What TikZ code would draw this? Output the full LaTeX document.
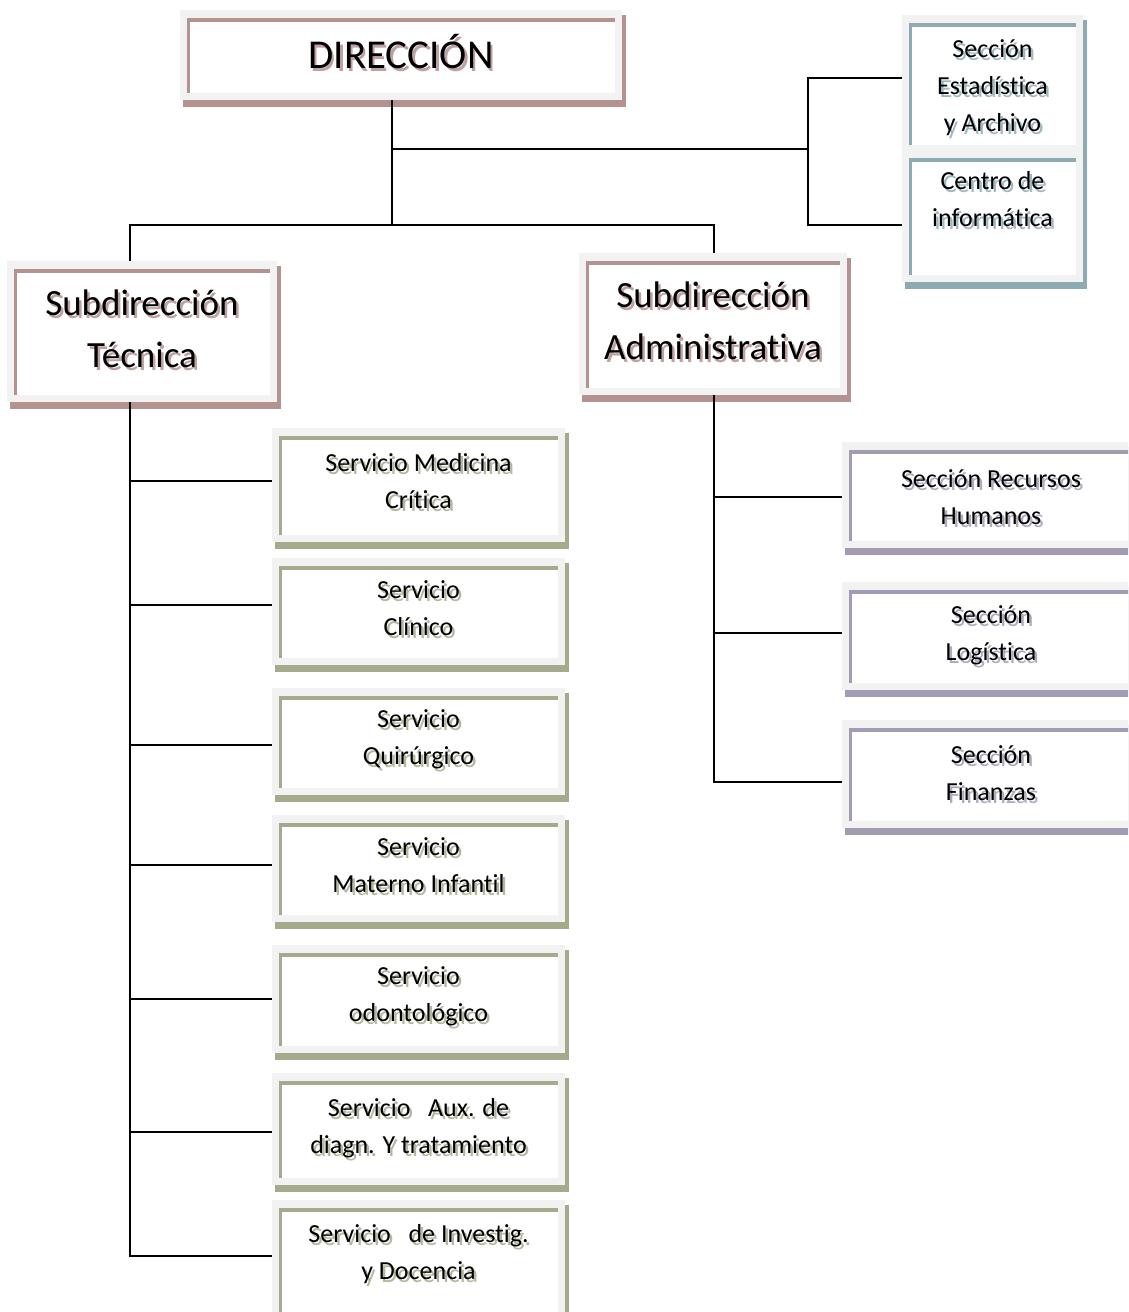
\documentclass[tikz,border=0pt]{standalone}
\usepackage{fontspec}
\setmainfont[Ligatures={NoCommon,NoContextual}]{Carlito}
\usetikzlibrary{fit}
\definecolor{framegray}{HTML}{F2F2F2}
\definecolor{pinkC}{HTML}{B39290}
\definecolor{blueC}{HTML}{8EABB4}
\definecolor{greenC}{HTML}{A3AB8C}
\definecolor{purpleC}{HTML}{A39BB3}
\tikzset{
  txt/.style={align=center, inner sep=0pt},
  conn/.style={draw=black, line width=1.6pt},
}
\newcommand\bigf{\fontsize{41}{50}\selectfont}
\newcommand\midf{\fontsize{37}{52}\selectfont}
\newcommand\smf{\fontsize{26}{37}\selectfont}
% #1 name #2 x0 #3 y0 #4 x1 #5 y1 #6 colour #7 font #8 text y #9 text
\newcommand\orgbox[9]{%
  \fill[#6] (#2+3,#3+5) rectangle (#4+4,#5+7);
  \fill[framegray] (#2,#3) rectangle (#4,#5);
  \fill[white] (#2+8,#3+8) rectangle (#4-7,#5-7);
  \fill[#6] (#2+7,#3+8) rectangle (#4-7,#3+12);
  \fill[#6] (#2+7,#3+8) rectangle (#2+10,#5-7);
  \node[fit={(#2,#3) (#4,#5)}, inner sep=0pt] (#1) {};
  \node[txt, font=#7, text=#6!85] at ({(#2+#4)/2+2.5},#8+3) {#9};
  \node[txt, font=#7] at ({(#2+#4)/2},#8) {#9};
}
\begin{document}
\begin{tikzpicture}[x=1pt, y=-1pt]
\useasboundingbox (0,0) rectangle (1128,1312);
\clip (0,0) rectangle (1128,1312);
\fill[white] (0,0) rectangle (1128,1312);

\orgbox{dir}{180}{10}{622}{100}{pinkC}{\bigf}{52}{DIRECCIÓN}
\orgbox{est}{902}{15}{1083}{152}{blueC}{\smf}{88}{Sección\\Estadística\\y Archivo}
\orgbox{cen}{902}{150}{1083}{282}{blueC}{\smf}{199.5}{Centro de\\informática}
\orgbox{tec}{7}{261}{277}{402}{pinkC}{\midf}{329}{Subdirección\\Técnica}
\orgbox{adm}{579}{253}{847}{395}{pinkC}{\midf}{320.5}{Subdirección\\Administrativa}

\orgbox{s1}{272}{428}{565}{542}{greenC}{\smf}{481.5}{Servicio Medicina\\Crítica}
\orgbox{s2}{272}{558}{565}{665}{greenC}{\smf}{608.5}{Servicio\\Clínico}
\orgbox{s3}{272}{688}{565}{795}{greenC}{\smf}{739.5}{Servicio\\Quirúrgico}
\orgbox{s4}{272}{815}{565}{922}{greenC}{\smf}{865.5}{Servicio\\Materno Infantil}
\orgbox{s5}{272}{945}{565}{1053}{greenC}{\smf}{996.5}{Servicio\\odontológico}
\orgbox{s6}{272}{1073}{565}{1185}{greenC}{\smf}{1128.5}{Servicio\ \ \ Aux. de\\diagn. Y tratamiento}
\orgbox{s7}{272}{1200}{565}{1340}{greenC}{\smf}{1254.5}{Servicio\ \ \ de Investig.\\y Docencia}

\orgbox{r1}{842}{442}{1140}{548}{purpleC}{\smf}{497.5}{Sección Recursos\\Humanos}
\orgbox{r2}{842}{582}{1140}{690}{purpleC}{\smf}{635}{Sección\\Logística}
\orgbox{r3}{842}{720}{1140}{828}{purpleC}{\smf}{773.5}{Sección\\Finanzas}

\coordinate (jd) at (392,225);
\coordinate (jm) at (392,149);
\coordinate (jr) at (808,149);
\coordinate (jt) at (808,78);
\coordinate (jb) at (808,225);
\coordinate (vt) at (130,225);
\coordinate (va) at (714,225);
\coordinate (vtb) at (130,1256);
\coordinate (vab) at (714,782);
\coordinate (b1) at (130,481);
\coordinate (b2) at (130,605);
\coordinate (b3) at (130,745);
\coordinate (b4) at (130,865);
\coordinate (b5) at (130,999);
\coordinate (b6) at (130,1132);
\coordinate (c1) at (714,497);
\coordinate (c2) at (714,633);

\draw[conn] (dir.south -| jd) -- (jd);
\draw[conn] (jm) -- (jr);
\draw[conn] (est.west |- jt) -- (jt) -- (jb) -- (cen.west |- jb);
\draw[conn] (tec.north -| vt) -- (vt) -- (va) -- (adm.north -| va);
\draw[conn] (tec.south -| vtb) -- (vtb) -- (s7.west |- vtb);
\foreach \s/\b in {s1/b1,s2/b2,s3/b3,s4/b4,s5/b5,s6/b6}{
  \draw[conn] (\b) -- (\s.west |- \b);
}
\draw[conn] (adm.south -| vab) -- (vab) -- (r3.west |- vab);
\foreach \s/\b in {r1/c1,r2/c2}{
  \draw[conn] (\b) -- (\s.west |- \b);
}
\end{tikzpicture}
\end{document}
